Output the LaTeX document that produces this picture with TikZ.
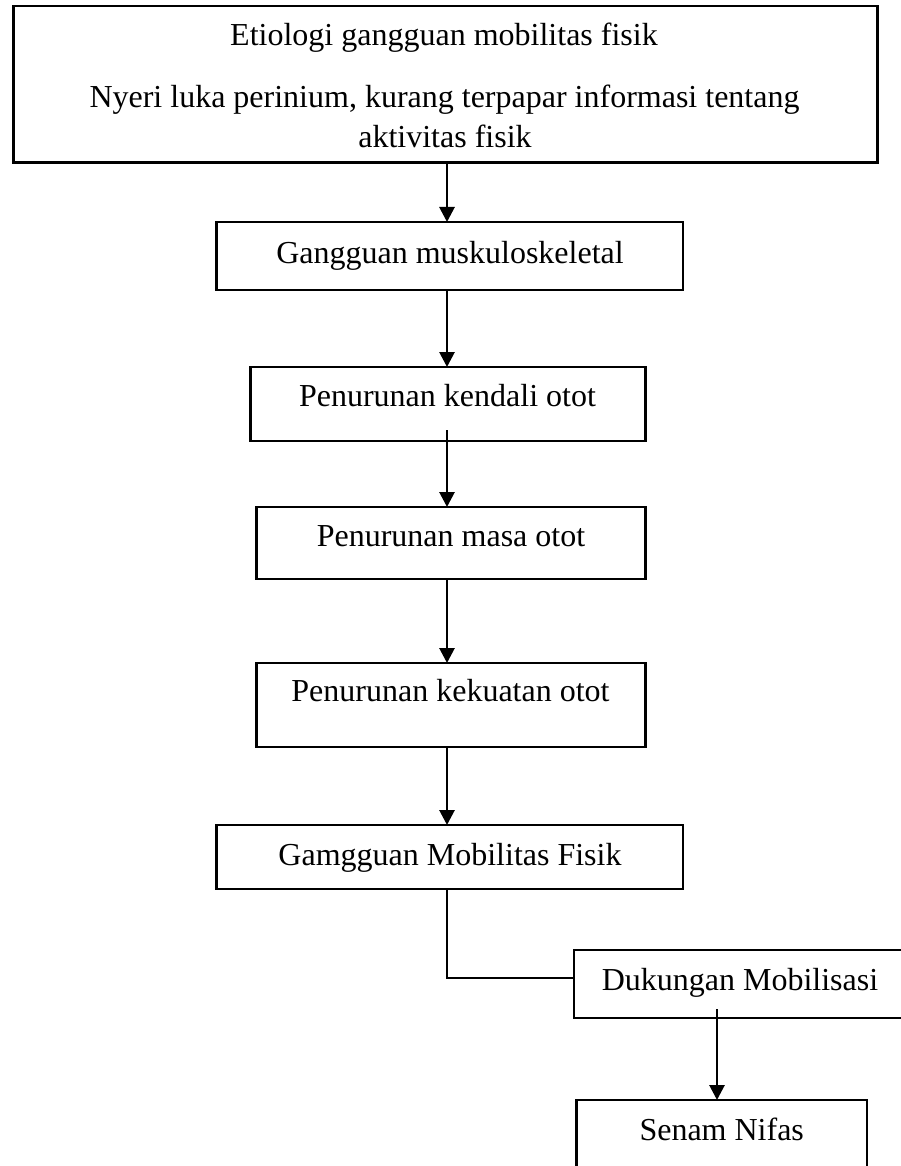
\documentclass[tikz,border=0pt]{standalone}
\usepackage{fontspec}
\setmainfont{Liberation Serif}
\usetikzlibrary{arrows.meta,calc}
\begin{document}
\begin{tikzpicture}[x=1pt,y=-1pt,
  box/.style={draw,line width=2.8pt,inner sep=0pt,outer sep=0pt},
  txt/.style={anchor=base,inner sep=0pt,outer sep=0pt,font=\fontsize{32pt}{38pt}\selectfont},
  arr/.style={line width=2.8pt,-{Triangle[width=15pt,length=15pt]}},
  thinline/.style={line width=1.1pt}
]
\useasboundingbox (0,0) rectangle (900,1166);

% boxes
\node[box,minimum width=864pt,minimum height=156.3pt] (top) at (445.3,84.15) {};
\node[box,minimum width=466.3pt,minimum height=68pt] (g1) at (449.85,256) {};
\node[box,minimum width=395pt,minimum height=74pt] (kendali) at (448.2,404) {};
\node[box,minimum width=389pt,minimum height=72pt] (masa) at (451.2,543) {};
\node[box,minimum width=389pt,minimum height=84pt] (kekuatan) at (451.2,705) {};
\node[box,minimum width=466.3pt,minimum height=64pt] (gam) at (449.85,857) {};
\node[box,minimum width=332pt,minimum height=68pt] (duk) at (740,984) {};
\node[box,minimum width=290.3pt,minimum height=75pt] (senam) at (721.85,1137.5) {};

% texts
\node[txt] (t0a) at (444,46) {Etiologi gangguan mobilitas fisik};
\node[txt] (t0b) at (444.5,107.5) {Nyeri luka perinium, kurang terpapar informasi tentang};
\node[txt] (t0c) at (445,147.5) {aktivitas fisik};
\node[txt] (t1) at (450,263.3) {Gangguan muskuloskeletal};
\node[txt] (t2) at (447.5,406.7) {Penurunan kendali otot};
\node[txt] (t3) at (451,546.7) {Penurunan masa otot};
\node[txt] (t4) at (450.5,701.7) {Penurunan kekuatan otot};
\node[txt] (t5) at (450,865) {Gamgguan Mobilitas Fisik};
\node[txt] (t6) at (740,990.7) {Dukungan Mobilisasi};
\node[txt] (t7) at (721.7,1140.7) {Senam Nifas};

% connectors
\coordinate (ax) at (447,0);
\draw[arr] (top.south -| ax) -- (g1.north -| ax);
\draw[arr] (g1.south -| ax) -- (kendali.north -| ax);
\coordinate (k2) at ($(kendali.south -| ax)+(0,-11)$);
\draw[arr] (k2) -- (masa.north -| ax);
\draw[arr] (masa.south -| ax) -- (kekuatan.north -| ax);
\draw[arr] (kekuatan.south -| ax) -- (gam.north -| ax);
\coordinate (dj) at ($(duk.west)+(0,-6)$);
\draw[thinline] (gam.south -| ax) |- (dj);
\coordinate (d2) at ($(duk.south)+(-23,-9)$);
\draw[arr] (d2) -- (senam.north -| d2);
\end{tikzpicture}
\end{document}
